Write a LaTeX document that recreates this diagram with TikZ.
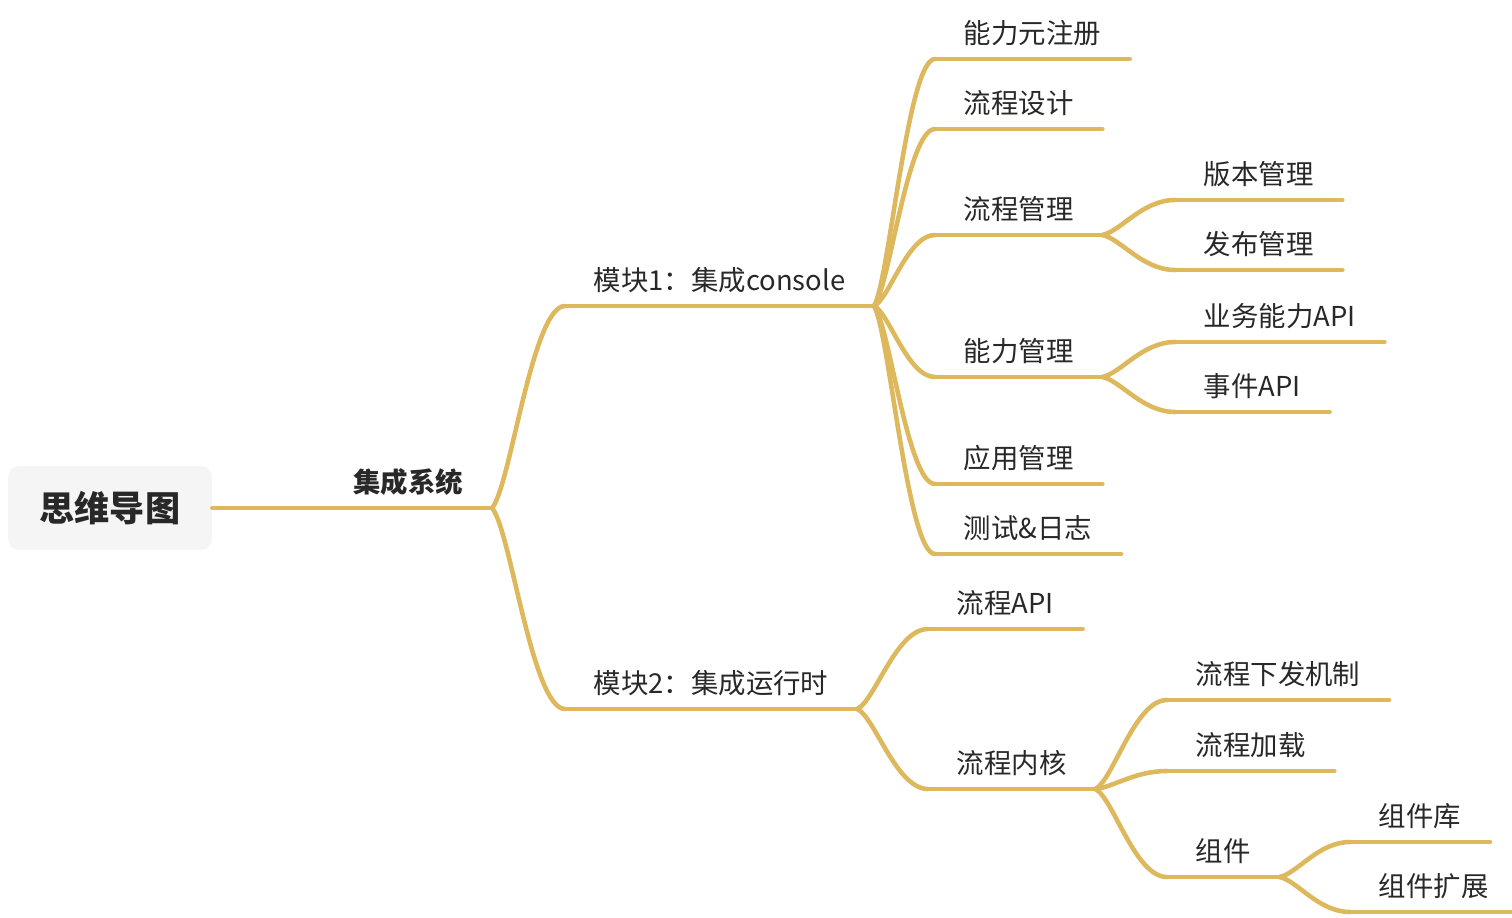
\documentclass[tikz,border=0pt]{standalone}
\usepackage{fontspec}
\setmainfont{Noto Sans CJK SC}
\usepackage{xcolor}
\usepackage{tikz}
\usetikzlibrary{calc, positioning}

\definecolor{branchgold}{RGB}{221,184,92}
\definecolor{rootgray}{RGB}{245,245,245}
\definecolor{inkgray}{RGB}{40,40,40}

\tikzset{
  branch/.style={draw=branchgold, line width=2.6pt, line cap=round},
  topic/.style={anchor=south west, inner xsep=0.57cm, inner ysep=7pt,
    text height=0.85em, text depth=0.15em, text=inkgray,
    font=\fontsize{15.6}{18}\selectfont},
  rootbox/.style={fill=rootgray, rounded corners=0.22cm, minimum width=4.08cm,
    minimum height=1.68cm, text=inkgray, font=\fontsize{20}{24}\selectfont\bfseries},
  link/.style={to path={let \p1=(\tikztostart), \p2=(\tikztotarget) in
    .. controls ({\x1+0.25*(\x2-\x1)},{\y1+0.1*(\y2-\y1)}) and ({\x1+0.55*(\x2-\x1)},\y2) .. (\tikztotarget)}}
}

\begin{document}
\begin{tikzpicture}[x=0.02cm, y=-0.02cm]
  \useasboundingbox (0,0) rectangle (1512,917);

  % root and first level
  \node[rootbox] (root) at (110,508) {思维导图};
  \node[topic, anchor=south east, font=\fontsize{15.6}{18}\selectfont\bfseries] (sys) at (492,508) {集成系统};
  \node[topic] (m1) at (565,306) {模块1：集成console};
  \node[topic] (m2) at (565,709) {模块2：集成运行时};

  % console
  \node[topic] (reg) at (935,59) {能力元注册};
  \node[topic] (design) at (935,129) {流程设计};
  \node[topic] (flow) at (935,235) {流程管理};
  \node[topic] (cap) at (935,377) {能力管理};
  \node[topic] (app) at (935,484) {应用管理};
  \node[topic] (test) at (935,554) {测试\&日志};
  \node[topic] (ver) at (1175,200) {版本管理};
  \node[topic] (pub) at (1175,270) {发布管理};
  \node[topic] (biz) at (1175,342) {业务能力API};
  \node[topic] (evt) at (1175,412) {事件API};

  % runtime
  \node[topic] (fapi) at (928,629) {流程API};
  \node[topic] (core) at (928,789) {流程内核};
  \node[topic] (dispatch) at (1167,700) {流程下发机制};
  \node[topic] (load) at (1167,771) {流程加载};
  \node[topic] (comp) at (1167,877) {组件};
  \node[topic] (lib) at (1350,842) {组件库};
  \node[topic] (ext) at (1350,912) {组件扩展};

  % underlines
  \draw[branch] (root.east) -- (sys.south east);
  \foreach \n in {m1,m2,reg,design,flow,cap,app,test,ver,pub,biz,evt,fapi,core,dispatch,load,comp,lib,ext}
    \draw[branch] (\n.south west) -- (\n.south east);

  % branches
  \foreach \a/\b in {sys/m1,sys/m2,m1/reg,m1/design,m1/flow,m1/cap,m1/app,m1/test,
    flow/ver,flow/pub,cap/biz,cap/evt,m2/fapi,m2/core,core/dispatch,core/load,core/comp,comp/lib,comp/ext}
    \draw[branch] (\a.south east) to[link] (\b.south west);
\end{tikzpicture}
\end{document}
